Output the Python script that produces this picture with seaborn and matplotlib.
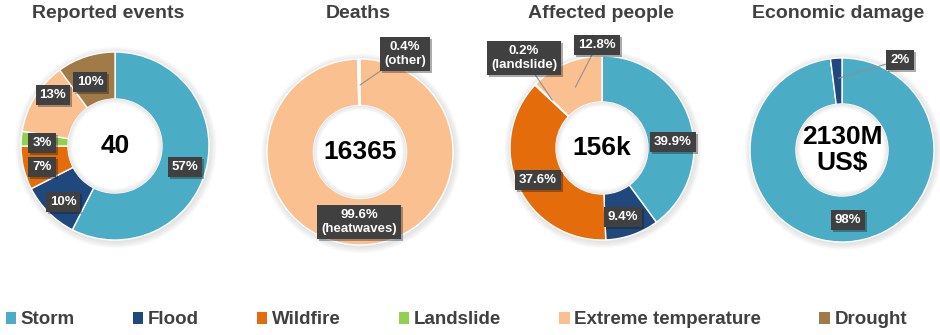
import matplotlib
matplotlib.use("Agg")
import matplotlib.pyplot as plt
import seaborn as sns
from matplotlib.patches import Patch, Circle, Wedge
import matplotlib.patheffects as pe

sns.set_theme(style="white")
plt.rcParams['font.family'] = ['Liberation Sans', 'DejaVu Sans']

# ---------------- data ----------------
hazards = ["Storm", "Flood", "Wildfire", "Landslide", "Extreme temperature", "Drought"]
hazard_colors = ["#4BACC6", "#1F497D", "#E46C0A", "#92D050", "#FAC090", "#A07B47"]

titles = ["Reported events", "Deaths", "Affected people", "Economic damage"]
center_texts = ["40", "16365", "156k", "2130M\nUS$"]

events_cats = ["Storm", "Flood", "Wildfire", "Landslide", "Extreme temperature", "Drought"]
events_vals = [23, 4, 3, 1, 5, 4]
events_labels = ["57%", "10%", "7%", "3%", "13%", "10%"]

deaths_cats = ["Extreme temperature", "Other"]
deaths_vals = [99.6, 0.4]
deaths_labels = ["99.6%\n(heatwaves)", "0.4%\n(other)"]

affected_cats = ["Storm", "Flood", "Wildfire", "Landslide", "Extreme temperature"]
affected_vals = [39.9, 9.4, 37.6, 0.2, 12.8]
affected_labels = ["39.9%", "9.4%", "37.6%", "0.2%\n(landslide)", "12.8%"]

damage_cats = ["Storm", "Flood"]
damage_vals = [98, 2]
damage_labels = ["98%", "2%"]

# ---------------- layout (pixels / radius units) ----------------
W, H = 940, 335
centers = [(115, 146, 94), (360, 152, 93), (602, 148, 92), (842, 150, 92)]
title_x = [108, 358, 601, 838]
# label text positions (radius units) and optional leader-line anchor
label_pos = [
    [((0.745, -0.223), None), ((-0.553, -0.596), None), ((-0.777, -0.223), None),
     ((-0.777, 0.032), None), ((-0.660, 0.543), None), ((-0.266, 0.681), None)],
    [((-0.01, -0.753), None), ((0.484, 1.054), (0.0, 0.72))],
    [((0.772, 0.065), None), ((0.228, -0.75), None), ((-0.696, -0.348), None),
     ((-0.848, 0.978), (-0.54, 0.52)), ((-0.054, 1.12), (-0.29, 0.66))],
    [((0.065, -0.761), None), ((0.63, 0.978), (-0.04, 0.78))],
]

palette = dict(zip(hazards, sns.color_palette(hazard_colors)))
palette["Other"] = (1, 1, 1)

datasets = [
    (events_cats, events_vals, events_labels),
    (deaths_cats, deaths_vals, deaths_labels),
    (affected_cats, affected_vals, affected_labels),
    (damage_cats, damage_vals, damage_labels),
]

fig = plt.figure(figsize=(W / 100, H / 100), dpi=100)
fig.patch.set_facecolor("white")

HALF = 135
for i, (cats, vals, labs) in enumerate(datasets):
    cx, cy, r = centers[i]
    ax = fig.add_axes([(cx - HALF) / W, (H - cy - HALF) / H, 2 * HALF / W, 2 * HALF / H])
    # soft outer shadow
    for k in range(1, 7):
        ax.add_patch(Wedge((0.01, -0.015), 1 + 0.012 * k, 0, 360, width=0.012 * k + 0.05,
                           color="gray", alpha=0.035, lw=0, zorder=0))
    cols = [palette[c] for c in cats]
    ax.pie(vals, colors=cols, startangle=90, counterclock=False, radius=1,
           wedgeprops=dict(width=0.5, edgecolor="white", linewidth=1.0))
    ax.add_patch(Circle((0, 0), 0.5, color="white", lw=0, zorder=2))
    # inner shadow of hole
    for k in range(1, 6):
        ax.add_patch(Wedge((0, 0), 0.5, 0, 360, width=0.01 * k, color="gray", alpha=0.035, lw=0, zorder=3))
    ax.set_xlim(-HALF / r, HALF / r)
    ax.set_ylim(-HALF / r, HALF / r)
    ax.set_aspect("equal")
    ax.axis("off")

    ax.text(0, 0, center_texts[i], ha="center", va="center", fontsize=19, fontweight="bold",
            color="black", linespacing=1.1, zorder=5)

    for lab, ((tx, ty), anchor) in zip(labs, label_pos[i]):
        bbox = dict(boxstyle="square,pad=0.3", fc="#404040", ec="none")
        if anchor is None:
            t = ax.text(tx, ty, lab, ha="center", va="center", fontsize=9.5, fontweight="bold",
                        color="white", bbox=bbox, zorder=6, linespacing=1.25)
        else:
            t = ax.annotate(lab, xy=anchor, xytext=(tx, ty), ha="center", va="center",
                            fontsize=9.5, fontweight="bold", color="white", bbox=bbox,
                            zorder=6, linespacing=1.25,
                            arrowprops=dict(arrowstyle="-", color="#909090", lw=0.8,
                                            shrinkA=0, shrinkB=0))
        t.get_bbox_patch().set_path_effects([pe.SimplePatchShadow(offset=(1.5, -1.5), alpha=0.35),
                                             pe.Normal()])

    fig.text(title_x[i] / W, 1 - 13 / H, titles[i], ha="center", va="center",
             fontsize=14, fontweight="bold", color="#404040")

handles = [Patch(facecolor=palette[h], edgecolor="none", label=h) for h in hazards]
fig.legend(handles=handles, loc="center left", bbox_to_anchor=(0 / W, 1 - 320 / H), ncol=6,
           frameon=False, handlelength=0.55, handleheight=0.55, handletextpad=0.25,
           columnspacing=3.1, prop={"weight": "bold", "size": 13.5}, labelcolor="#404040",
           borderaxespad=0, borderpad=0.3)

fig.savefig("out.png", dpi=100, facecolor="white")
